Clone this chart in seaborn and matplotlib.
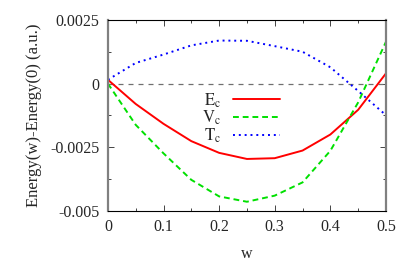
import numpy as np
import pandas as pd
import seaborn as sns
import matplotlib.pyplot as plt
from matplotlib.ticker import MultipleLocator

# Valores
w = [0.0, 0.05, 0.1, 0.15, 0.2, 0.25, 0.3, 0.35, 0.4, 0.45, 0.5]
Ec = [0.00015, -0.0008, -0.00158, -0.00226, -0.00272, -0.00296, -0.00293, -0.00263, -0.0020, -0.00103, 0.0004]
Vc = [0.0, -0.00162, -0.00274, -0.00378, -0.00443, -0.00464, -0.00440, -0.00388, -0.00264, -0.00074, 0.00164]
Tc = [0.00015, 0.00081, 0.00114, 0.00150, 0.00169, 0.00168, 0.00147, 0.00125, 0.00064, -0.00029, -0.00124]
nomes = ["$\\mathrm{E_c}$", "$\\mathrm{V_c}$", "$\\mathrm{T_c}$"]

dados = pd.DataFrame({
    "w": w * 3,
    "valor": Ec + Vc + Tc,
    "serie": [nomes[0]] * len(w) + [nomes[1]] * len(w) + [nomes[2]] * len(w),
})

sns.set_style("ticks")
plt.rcParams["font.family"] = ["Liberation Serif", "DejaVu Serif"]
plt.rcParams["mathtext.fontset"] = "stix"

fig = plt.figure(figsize=(4.15, 2.62), dpi=100)
ax = fig.add_axes([0.26, 0.195, 0.67, 0.729])

cores = {nomes[0]: "#ff0000", nomes[1]: "#00e000", nomes[2]: "#0000ff"}
estilos = {nomes[0]: "-", nomes[1]: (0, (3, 2)), nomes[2]: (0, (1, 2))}

ax.axhline(0, color="#707070", linestyle=(0, (4, 4)), linewidth=0.9)

for nome in nomes:
    sub = dados[dados["serie"] == nome]
    sns.lineplot(data=sub, x="w", y="valor", ax=ax, color=cores[nome],
                 linestyle=estilos[nome], linewidth=1.4, label=nome)

ax.set_xlim(0, 0.5)
ax.set_ylim(-0.005, 0.0025)
ax.xaxis.set_minor_locator(MultipleLocator(0.05))
ax.yaxis.set_minor_locator(MultipleLocator(0.00125))
ax.set_xticks([0, 0.1, 0.2, 0.3, 0.4, 0.5])
ax.set_xticklabels(["0", "0.1", "0.2", "0.3", "0.4", "0.5"])
ax.set_yticks([-0.005, -0.0025, 0, 0.0025])
ax.set_yticklabels(["-0.005", "-0.0025", "0", "0.0025"])
ax.tick_params(which="both", direction="in", top=True, right=True, labelsize=11.5, pad=6)
ax.tick_params(which="major", length=4, width=0.6)
ax.tick_params(which="minor", length=2.5, width=0.6)

for lado in ["top", "bottom"]:
    ax.spines[lado].set_color("black")
    ax.spines[lado].set_linewidth(0.8)
for lado in ["left", "right"]:
    ax.spines[lado].set_color("#808080")
    ax.spines[lado].set_linewidth(1.6)

ax.set_xlabel("w", fontsize=11.5, labelpad=8)
ax.set_ylabel("Energy(w)-Energy(0) (a.u.)", fontsize=12, labelpad=6)

ax.legend(loc="upper left", bbox_to_anchor=(0.31, 0.67), frameon=False, markerfirst=False,
          fontsize=12, handlelength=2.8, handletextpad=0.7, labelspacing=-0.05, borderpad=0)

fig.savefig("out.png", dpi=100)
